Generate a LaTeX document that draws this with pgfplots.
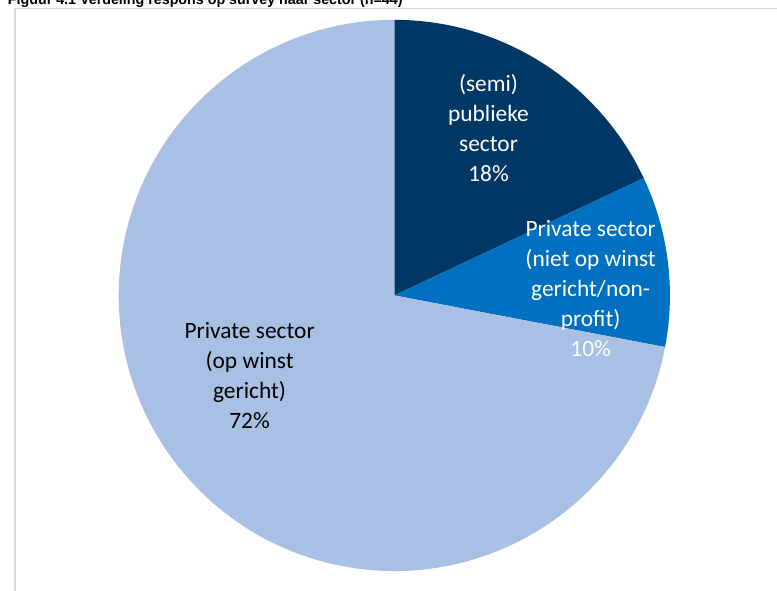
\documentclass[border=0pt]{standalone}
\usepackage{pgfplots}
\usepackage{pgfplotstable}
\pgfplotsset{compat=1.18}
\usepackage{fontspec}
\setmainfont{Carlito}
\newfontfamily\arialfont{Liberation Sans}

\definecolor{donker}{RGB}{0,56,101}
\definecolor{midden}{RGB}{0,112,192}
\definecolor{licht}{RGB}{167,192,227}
\definecolor{kader}{RGB}{217,217,217}

\pgfplotstableread[col sep=comma]{
sector,pct
publiek,18
nonprofit,10
winst,72
}\piedata

\begin{document}
\pgfplotstablegetelem{0}{pct}\of\piedata \let\pA\pgfplotsretval
\pgfplotstablegetelem{1}{pct}\of\piedata \let\pB\pgfplotsretval
\pgfplotstablegetelem{2}{pct}\of\piedata \let\pC\pgfplotsretval
\pgfmathsetmacro\aA{90-3.6*\pA}
\pgfmathsetmacro\aB{\aA-3.6*\pB}
\pgfmathsetmacro\aC{\aB-3.6*\pC}
\begin{tikzpicture}
\begin{axis}[
at={(0,0)},
anchor=south west,
width=777pt,
height=596pt,
scale only axis,
xmin=0, xmax=777,
ymin=0, ymax=596,
hide axis,
clip=false,
]
% title (cut off at the top)
\node[anchor=base west, inner sep=0pt,
  font=\arialfont\bfseries\fontsize{14.4}{17}\selectfont]
  at (axis cs:1,591.5) {Figuur 4.1 Verdeling respons op survey naar sector (n=44)};
% chart area
\filldraw[fill=white, draw=kader, line width=1.5pt]
  (axis cs:8.5,-20) rectangle (axis cs:800,587.5);
% slices, clockwise from the top
\fill[donker] (axis cs:391,298) -- ++(90:278pt)
  arc[start angle=90, end angle=\aA, radius=278pt] -- cycle;
\fill[midden] (axis cs:391,298) -- ++(\aA:278pt)
  arc[start angle=\aA, end angle=\aB, radius=278pt] -- cycle;
\fill[licht] (axis cs:391,298) -- ++(\aB:278pt)
  arc[start angle=\aB, end angle=\aC, radius=278pt] -- cycle;
% labels
\node[align=center, text=white, font=\fontsize{23.6}{30.3}\selectfont]
  at (axis cs:486,467) {(semi)\\publieke\\sector\\\pA\%};
\node[align=center, text=white, font=\fontsize{23.6}{30.3}\selectfont]
  at (axis cs:589,305) {Private sector\\(niet op winst\\gericht/non-\\profit)\\\pB\%};
\node[align=center, text=black, font=\fontsize{23.6}{30.3}\selectfont]
  at (axis cs:245,217) {Private sector\\(op winst\\gericht)\\\pC\%};
\end{axis}
\pgfresetboundingbox
\path[use as bounding box] (0,0) rectangle (777pt,596pt);
\end{tikzpicture}
\end{document}
